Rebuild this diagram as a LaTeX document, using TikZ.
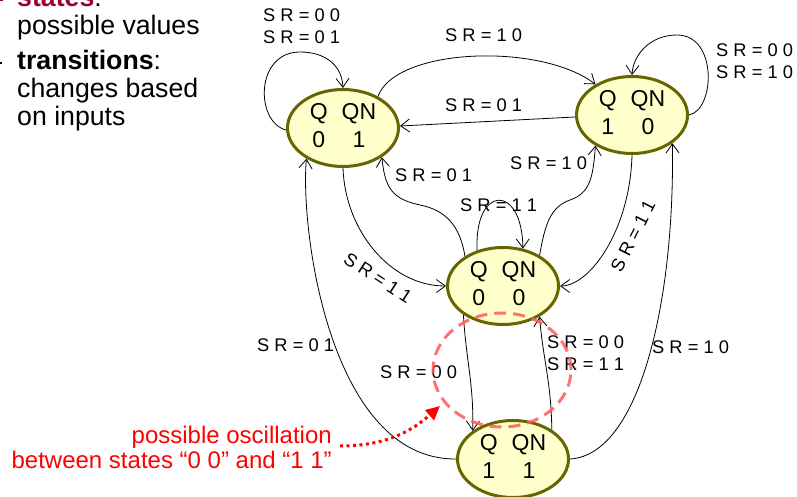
\documentclass[tikz,border=0pt]{standalone}
\usepackage{fontspec}
\setmainfont{Liberation Sans}
\usetikzlibrary{arrows.meta,shapes.geometric}
\definecolor{olivebd}{RGB}{102,102,0}
\definecolor{nodefill}{RGB}{255,255,204}
\definecolor{darkred}{RGB}{153,0,51}
\definecolor{notered}{RGB}{255,0,0}
\newcommand\qqn[2]{\begin{tabular}{@{}c@{\hspace{14pt}}c@{}}Q&QN\\#1&#2\end{tabular}}
\begin{document}
\begin{tikzpicture}[x=1pt,y=-1pt,
  state/.style={ellipse,draw=olivebd,fill=nodefill,line width=3pt,
    minimum width=111pt,minimum height=77pt,inner xsep=0pt,inner ysep=-8pt,
    font=\fontsize{23}{28}\selectfont},
  conn/.style={draw=black,line width=0.8pt,
    -{Straight Barb[length=9pt,width=13pt,line width=0.8pt]}},
  lbl/.style={font=\fontsize{18.3}{22}\selectfont,inner sep=0pt,anchor=base west},
  rlbl/.style={font=\fontsize{18.3}{22}\selectfont,inner sep=0pt,anchor=center},
  bigtxt/.style={font=\fontsize{26.7}{30}\selectfont,inner sep=0pt,anchor=base west},
  notetxt/.style={font=\fontsize{24}{28}\selectfont,text=notered,inner sep=0pt,anchor=base east},
  oscring/.style={draw=red!65,opacity=0.85,line width=3pt,dash pattern=on 12pt off 7pt},
  dotarrow/.style={draw=notered,line width=3pt,dash pattern=on 3pt off 3.5pt,
    -{Triangle[length=14pt,width=13pt]}}
]
\useasboundingbox (0,0) rectangle (797,497);

% left bullet text
\draw[darkred,line width=1.6pt] (-6,0) -- (3,0);
\draw[black,line width=1.2pt] (-6,63) -- (2,63);
\node[bigtxt] (t1) at (17,7) {\textbf{\textcolor{darkred}{states}}:};
\node[bigtxt] (t2) at (17,35) {possible values};
\node[bigtxt] (t3) at (17,70) {\textbf{transitions}:};
\node[bigtxt] (t4) at (17,98) {changes based};
\node[bigtxt] (t5) at (17,126) {on inputs};

% states
\node[state] (n01) at (343,128) {\qqn{0}{1}};
\node[state] (n10) at (632,115) {\qqn{1}{0}};
\node[state] (n00) at (503,286) {\qqn{0}{0}};
\node[state] (n11) at (513,459) {\qqn{1}{1}};

% transitions
\draw[conn] (n01.182) .. controls (255,122) and (255,52) .. (300,52)
            .. controls (325,52) and (342,65) .. (n01.north);
\draw[conn] (n01.42) .. controls (395,48) and (540,42) .. (n10.140);
\draw[conn] (n10.182) -- (n01.2);
\draw[conn] (n10.east) .. controls (715,110) and (718,35) .. (677,35)
            .. controls (650,35) and (633,55) .. (n10.north);
\draw[conn] (n00.142) .. controls (460,225) and (445,210) .. (420,205)
            .. controls (392,199) and (385,188) .. (n01.-37);
\draw[conn] (n00.40) .. controls (545,225) and (550,207) .. (570,200)
            .. controls (590,193) and (593,178) .. (n10.-140);
\draw[conn] (n00.126) .. controls (474,185) and (522,183) .. (n00.62);
\draw[conn] (n01.south) .. controls (345,230) and (390,286) .. (n00.west);
\draw[conn] (n10.south) .. controls (630,230) and (590,286) .. (n00.east);
\draw[conn] (n11.west) .. controls (330,460) and (300,230) .. (n01.-140);
\draw[conn] (n11.east) .. controls (640,455) and (675,300) .. (n10.-35);
\draw[conn] (n00.-144) .. controls (466,360) and (474,385) .. (n11.145);
\draw[conn] (n11.37) .. controls (551,380) and (543,360) .. (n00.-40);

% labels
\node[lbl] (l1) at (263,21.5) {S R = 0 0};
\node[lbl] (l2) at (263,43.5) {S R = 0 1};
\node[lbl] (l3) at (445,41.5) {S R = 1 0};
\node[lbl] (l4) at (445,111.5) {S R = 0 1};
\node[lbl] (l5) at (716,56.5) {S R = 0 0};
\node[lbl] (l6) at (716,78.5) {S R = 1 0};
\node[lbl] (l7) at (395,181.5) {S R = 0 1};
\node[lbl] (l8) at (510,169.5) {S R = 1 0};
\node[lbl] (l9) at (460,211.5) {S R = 1 1};
\node[rlbl,rotate=-33] (l10) at (378,278) {S R = 1 1};
\node[rlbl,rotate=63] (l11) at (633,236) {S R = 1 1};
\node[lbl] (l12) at (257,351.5) {S R = 0 1};
\node[lbl] (l13) at (380,378.5) {S R = 0 0};
\node[lbl] (l14) at (547,348.5) {S R = 0 0};
\node[lbl] (l15) at (547,370.5) {S R = 1 1};
\node[lbl] (l16) at (652,353) {S R = 1 0};

% oscillation note
\draw[oscring] (502,370) ellipse [x radius=69pt, y radius=57pt];
\node[notetxt] (note1) at (332,443) {possible oscillation};
\node[notetxt] (note2) at (332,468) {between states “0 0” and “1 1”};
\coordinate (ns) at (340,446);
\coordinate (ne) at (440,406);
\draw[dotarrow] (ns) .. controls (390,446) and (415,428) .. (ne);
\end{tikzpicture}
\end{document}
